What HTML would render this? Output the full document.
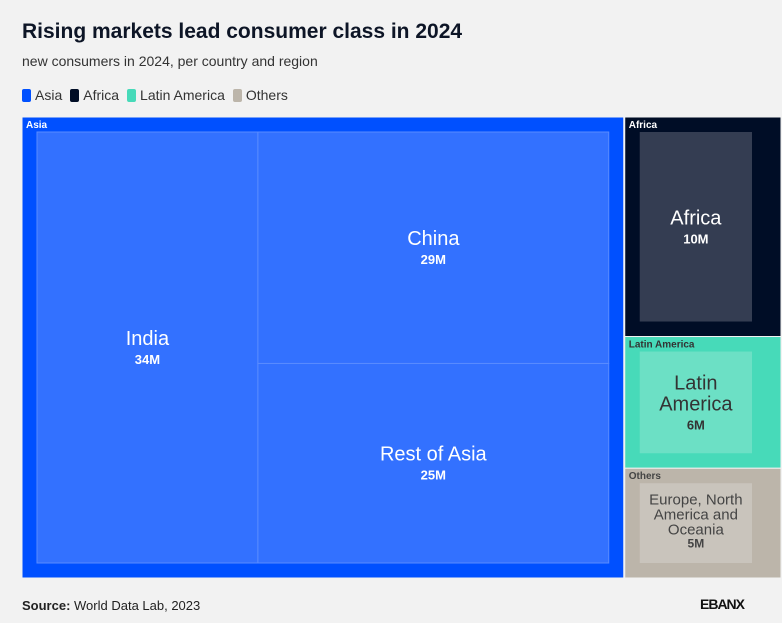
<!DOCTYPE html>
<html><head><meta charset="utf-8"><style>
body{margin:0;width:782px;height:623px;background:#f2f2f2;font-family:"Liberation Sans",sans-serif;position:relative;overflow:hidden}
h1{position:absolute;left:22px;top:20px;margin:0;font-size:21px;font-weight:bold;color:#0d1526}
.sub{position:absolute;left:22px;top:53px;font-size:14px;color:#333}
.legend{position:absolute;left:22px;top:87px;font-size:14px;color:#333;display:flex;gap:8px}
.legend span{display:flex;align-items:center}
.legend i{display:inline-block;width:9px;height:13px;border-radius:2px;margin-right:4px}
.src{position:absolute;left:22px;top:598px;font-size:13px;color:#222}
.logo{position:absolute;left:700px;top:596px;font-size:14px;font-weight:bold;letter-spacing:-1px;color:#111}
</style></head><body>
<h1>Rising markets lead consumer class in 2024</h1>
<div class="sub">new consumers in 2024, per country and region</div>
<div class="legend">
<span><i style="background:#0050ff"></i>Asia</span>
<span><i style="background:#000d26"></i>Africa</span>
<span><i style="background:#47dab9"></i>Latin America</span>
<span><i style="background:#bcb5aa"></i>Others</span>
</div>
<svg id="tm" width="782" height="623" style="position:absolute;left:0;top:0"></svg>
<div class="src"><b>Source:</b> World Data Lab, 2023</div>
<div class="logo">EBANX</div>
<script>
const regions=["Asia","Africa","Latin America","Others"];
const asiaLeaves=["India","China","Rest of Asia"];
const asiaValues=[34,29,25];
const otherLeaves=[["Africa"],["Latin","America"],["Europe, North","America and","Oceania"]];
const otherValues=[10,6,5];
const valueLabels=["34M","29M","25M","10M","6M","5M"];
const outerCol=["#0050ff","#000d26","#47dab9","#bcb5aa"];
const innerCol=["#3371ff","#343d52","#6ce0c5","#c9c4bc"];
const textCol=["#fff","#fff","#333","#444"];
const X0=22,Y0=117,W=759,H=461,P=15;
const svg=document.getElementById('tm');const NS="http://www.w3.org/2000/svg";
function el(t,a,p){const e=document.createElementNS(NS,t);for(const k in a)e.setAttribute(k,a[k]);(p||svg).appendChild(e);return e;}
const asiaSum=asiaValues.reduce((a,b)=>a+b,0),othSum=otherValues.reduce((a,b)=>a+b,0);
const aw=W*asiaSum/(asiaSum+othSum)*0.982;
function group(x,y,w,h,i,name){
 const r=el('rect',{x,y,width:w,height:h,fill:outerCol[i],stroke:'#f2f2f2','stroke-width':1});
 
 
 const t=el('text',{x:x+4,y:y+11,'font-size':10,'font-weight':'bold',fill:textCol[i]});t.textContent=name;
 
 
}
function leaf(x,y,w,h,i,lines,val,small){
 const r=el('rect',{x,y,width:w,height:h,fill:innerCol[i],stroke:i==0?'#5a8cff':'none','stroke-width':1});
 
 
 const fs=small?15:20,lh=small?15:21;const cx=x+w/2;
 const tot=lines.length*lh+16;let ty=y+h/2-tot/2+fs*0.8;
 lines.forEach(l=>{const t=el('text',{x:cx,y:ty,'font-size':fs,'text-anchor':'middle',fill:textCol[i]});t.textContent=l;
  
  ty+=lh;});
 const v=el('text',{x:cx,y:ty-2,'font-size':small?12:13,'font-weight':'bold','text-anchor':'middle',fill:textCol[i]});v.textContent=val;
 
 
}
group(X0,Y0,aw,H,0,regions[0]);
const ix=X0+P,iy=Y0+P,iw=aw-2*P,ih=H-2*P;
const indW=iw*asiaValues[0]/asiaSum;
leaf(ix,iy,indW,ih,0,[asiaLeaves[0]],valueLabels[0]);
const restSum=asiaValues[1]+asiaValues[2];const chH=ih*asiaValues[1]/restSum;
leaf(ix+indW,iy,iw-indW,chH,0,[asiaLeaves[1]],valueLabels[1]);
leaf(ix+indW,iy+chH,iw-indW,ih-chH,0,[asiaLeaves[2]],valueLabels[2]);
let y=Y0;const rx=X0+aw+1,rw=W-aw-1;
otherValues.forEach((v,k)=>{const h=H*v/othSum;
 group(rx,y,rw,h,k+1,regions[k+1]);
 leaf(rx+P,y+P,rw-P-29,h-2*P,k+1,otherLeaves[k],valueLabels[k+3],k==2);
 y+=h;});
</script>
</body></html>
